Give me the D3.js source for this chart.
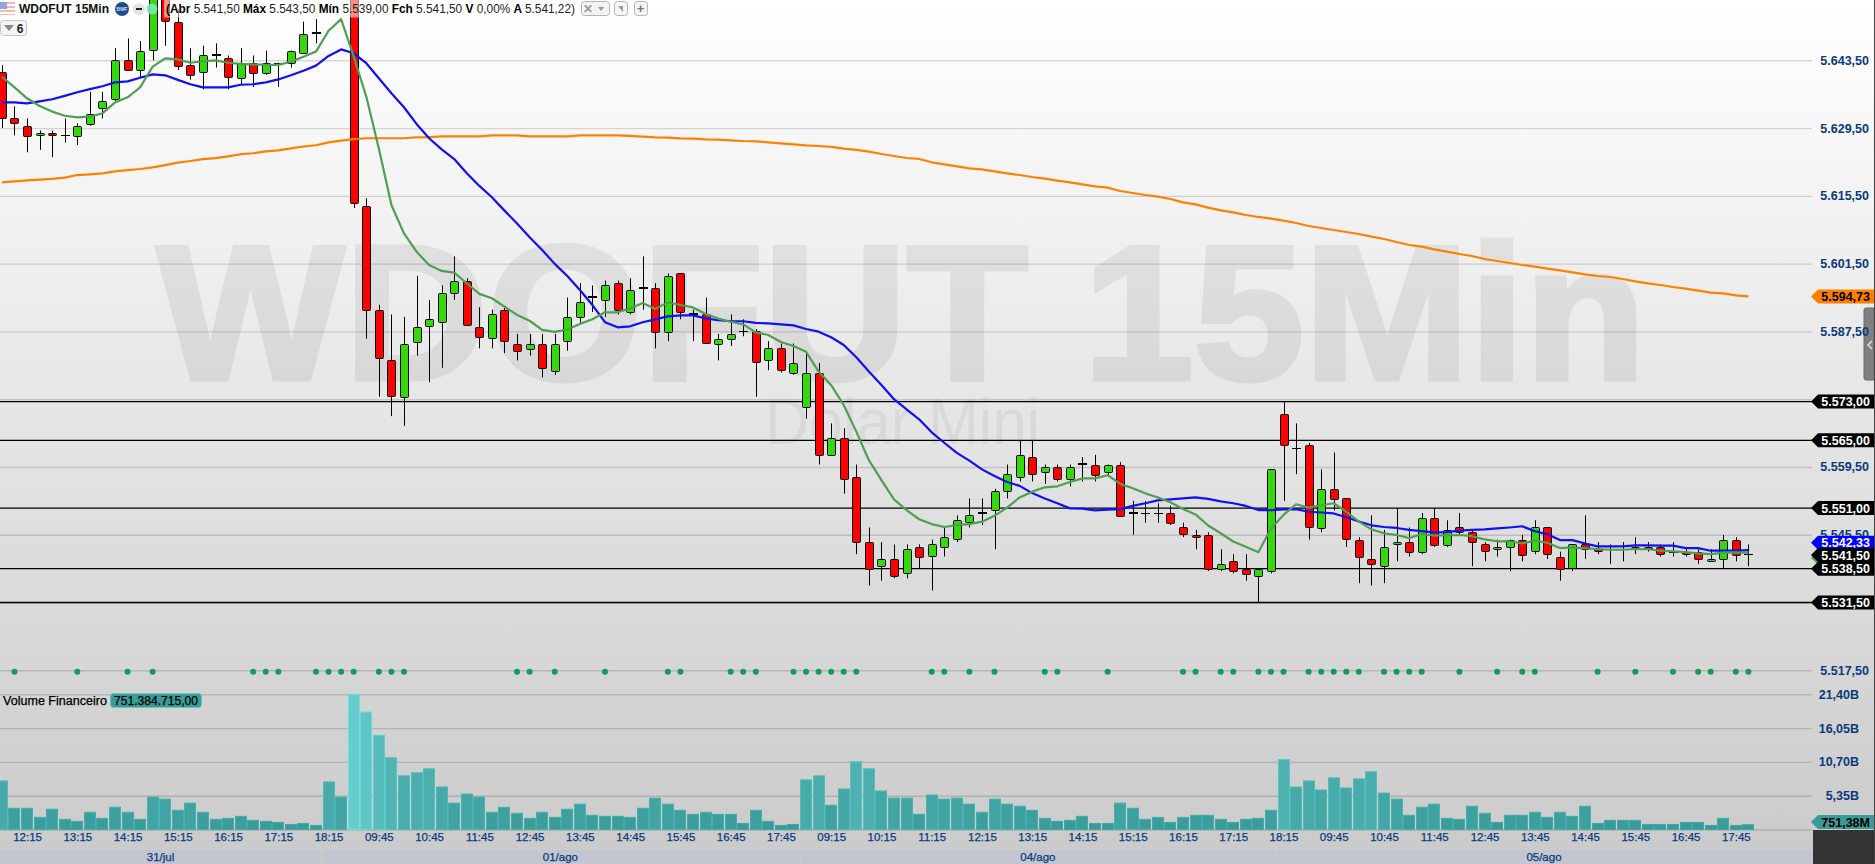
<!DOCTYPE html>
<html>
<head>
<meta charset="utf-8">
<script src="https://cdnjs.cloudflare.com/ajax/libs/d3/7.8.5/d3.min.js"></script>
<style>
html,body{margin:0;padding:0;background:#ccc;overflow:hidden}
svg{display:block}
text{font-family:"Liberation Sans",Arial,sans-serif}
</style>
</head>
<body>
<svg id="chart" width="1875" height="864"></svg>
<script>
const candleOpen=[5641,5631.5,5630,5628,5628.5,5628,5628,5630.5,5633.5,5635.5,
5643.5,5641.5,5645.5,5659,5651.5,5642.5,5641,5644.5,5644,5640,
5643,5641,5643,5643,5645,5649,5660,5666,5662,5613.5,
5592,5581.5,5574,5585.5,5588.5,5589.5,5595.5,5598,5588.5,5586,
5592,5585,5584,5585,5579.5,5585.5,5590.5,5594.5,5594,5597.5,
5591.5,5596.5,5596.5,5587.5,5599.5,5591,5591,5585,5586,5587.5,
5587.5,5581.5,5584,5579,5572,5579,5562,5565.5,5557.5,5544,
5539,5540.5,5537.5,5543,5541,5543,5544.5,5548,5550,5550.5,
5554.5,5557.5,5561.5,5558.5,5559.5,5557,5560,5560,5558.5,5560,
5550,5550,5550,5550,5547,5545.5,5545.5,5538.5,5540,5538.5,
5537,5538,5570.5,5563.5,5564,5547,5555,5553,5544.5,5540.5,
5539,5543.5,5544,5542,5549,5543.5,5547,5546,5543.5,5542.5,
5543,5544.5,5542,5547,5541,5538.5,5543.5,5542.5,5542.5,5542.5,
5542.5,5543,5543,5542,5542,5542,5540,5540.5,5544.5,5541.5];
const candleHigh=[5642.5,5634,5631.5,5629,5629,5631.5,5630.5,5637,5637,5646,
5648,5647.5,5662,5661,5654,5646,5646.5,5647,5644.5,5646,
5644.5,5645.5,5643,5645.5,5651.5,5652,5668,5670,5664,5615,
5593,5591,5590.5,5599,5594,5597,5603,5598.5,5592.5,5592,
5592.5,5587,5587,5587,5587,5594.5,5597.5,5597,5598,5598,
5598.5,5603,5597.5,5599.5,5599.5,5592,5594.5,5587,5591,5590,
5588,5585.5,5585,5585,5583,5581,5568.5,5567.5,5560,5547,
5544,5543.5,5543.5,5543.5,5544.5,5547,5549.5,5553,5553,5555,
5560,5565,5565,5560,5560,5560,5561.5,5562,5560,5560.5,
5552.5,5552.5,5552,5551.5,5548,5546.5,5546,5542.5,5541.5,5541.5,
5538.5,5559,5573,5568.5,5564.5,5559,5562.5,5553,5545,5549.5,
5546.5,5551,5547,5550,5551,5548.5,5550,5546.5,5544,5544.5,
5544.5,5545.5,5548.5,5547,5542,5543.5,5549.5,5544,5543.5,5544,
5545,5544,5543.5,5544,5543,5542.5,5542.5,5545.5,5545,5543.5];
const candleLow=[5629.5,5628,5624.5,5625,5623.5,5626.5,5626,5630,5631.5,5635,
5641.5,5640,5643.5,5646.5,5641.5,5639.5,5637.5,5642,5637.5,5638.5,
5638,5640.5,5638,5642,5645,5647,5658,5660,5613,5586,
5574,5570,5568,5582.5,5577,5580,5594,5589,5584,5584,
5583,5581.5,5582.5,5578,5578.5,5583.5,5589,5591.5,5590.5,5591,
5591,5592,5584,5585.5,5590,5585.5,5585,5581.5,5584.5,5586.5,
5574,5579.5,5579,5578.5,5569.5,5560,5562,5554,5541.5,5535,
5536,5536.5,5536.5,5538.5,5534,5541,5544,5547,5547.5,5542.5,
5553,5556.5,5556.5,5556,5556.5,5555.5,5556.5,5556.5,5557.5,5549.5,
5545.5,5548,5548,5547.5,5545,5542.5,5538,5538,5537.5,5536,
5531.5,5537.5,5552.5,5558,5544.5,5546,5550.5,5543,5535.5,5535,
5535.5,5540,5541,5541.5,5543,5543,5545.5,5539,5540,5541,
5538,5540,5541.5,5540.5,5536,5538,5540.5,5541.5,5539.5,5540,
5541.5,5542,5541,5541,5541,5539.5,5540,5538.5,5540,5539];
const candleClose=[5631.5,5630.5,5628,5628.5,5628,5628,5630,5632.5,5635,5643.5,
5641.5,5645.5,5660,5651.5,5642.5,5640.5,5644.5,5644.75,5640,5643,
5641,5643,5643,5645.5,5649,5649.25,5666,5662,5614,5592,
5582,5574,5585,5588.5,5590,5595.5,5598,5589,5586.5,5591,
5585.5,5583.5,5585,5580,5585,5590.5,5593.5,5594.75,5597,5592,
5596,5596.75,5587.5,5599,5591.5,5591.25,5585,5586,5587,5587.5,
5581,5584,5579.5,5581,5579,5562,5565.5,5557,5544,5538.5,
5540.5,5537,5542.5,5541,5543.5,5545,5548.5,5549.5,5550.25,5554.5,
5558,5562,5558,5559.5,5557,5559.5,5560.25,5558,5560,5549.5,
5550.25,5550,5550,5548,5545.5,5545,5538.5,5539.5,5538,5537.5,
5538.5,5559,5564,5563.5,5547,5555,5553,5544.5,5541,5539.5,
5543,5544,5542,5549,5543.5,5546.5,5546,5544,5542,5543,
5544.5,5541.5,5547,5541.5,5538.5,5543.5,5542.5,5542,5542.5,5542.5,
5543,5542.5,5541.5,5542,5541.5,5540.5,5540.5,5544.5,5541.5,5541.5];
const volumeB=[7.69,3.36,3.36,1.92,3.2,1.6,1.28,2.72,1.76,3.52,
2.72,1.6,5.13,4.81,3.04,4.17,2.72,1.6,1.76,2.08,
1.44,1.28,1.12,.8,.96,.64,7.53,5.13,21.4,18.58,
14.9,11.37,8.49,8.97,9.61,6.73,4.17,5.61,5.13,2.72,
3.52,2.56,1.76,2.72,1.92,3.2,4.01,2.24,2.08,2.08,
1.92,3.36,4.97,4.01,3.04,2.4,2.72,2.4,2.4,.96,
3.04,1.28,.64,.8,7.85,8.49,3.84,6.41,10.73,9.61,
6.09,4.97,4.97,2.4,5.45,4.81,4.97,4.01,2.72,4.81,
4.01,3.68,3.04,1.76,1.28,1.44,2.08,.96,.96,4.17,
3.36,1.6,1.92,1.12,1.92,2.24,2.24,1.6,1.12,1.6,
1.76,3.04,11.05,6.73,7.69,6.25,8.17,6.57,8.01,9.13,
5.77,4.81,2.24,3.52,4.01,1.76,1.6,3.68,2.56,1.12,
2.24,2.24,2.72,1.92,2.72,2.08,3.68,.96,1.44,1.44,
1.44,.8,.8,.8,1.12,1.12,.64,1.76,.64,.75];
const fastAvg=[5640.1,5637.9,5635.65,5634.05,5632.9,5632.05,5631.7,5631.85,5632.55,5634.8,
5635.85,5637.9,5642.2,5643.9,5643.7,5643,5643.3,5643.5,5643,5642.75,
5642.65,5642.55,5642.55,5643.2,5644.25,5645.3,5649.6,5652,5644.25,5636,
5625.3,5613.6,5607.75,5603.97,5601.2,5600,5599.65,5597.45,5595.25,5594.35,
5592.6,5590.9,5589.7,5587.8,5587.4,5587.9,5589.05,5590,5591.45,5591.45,
5592.25,5593.35,5592.15,5593.5,5592.95,5592.45,5591.1,5590.15,5589.5,5588.95,
5587.3,5586.75,5585.3,5584.5,5583.3,5579.2,5576.4,5572.3,5566.8,5560.9,
5556.8,5552.8,5550.6,5548.7,5547.7,5547.1,5547.5,5547.7,5548.2,5549.4,
5551.1,5553.2,5554.4,5555.3,5555.5,5556.4,5557.15,5557.15,5557.8,5556,
5555.1,5554.05,5553.2,5552.2,5550.8,5549.7,5547.4,5545.8,5544.1,5543,
5541.9,5546.8,5549.6,5551.8,5551.1,5551.6,5552,5550.25,5548.2,5546.6,
5545.8,5545.45,5544.8,5545.65,5545.3,5545.4,5545.45,5545.2,5544.55,5544.15,
5544.15,5543.7,5544.3,5543.85,5542.75,5542.9,5542.7,5542.55,5542.4,5542.4,
5542.55,5542.5,5542.2,5542.05,5541.9,5541.65,5541.5,5541.8,5541.85,5541.8];
const midAvg=[5634.8,5634.8,5634.6,5635,5635.45,5636.15,5636.9,5637.55,5638.15,5638.95,
5639.15,5639.9,5640.6,5640.4,5639.45,5638.55,5637.9,5637.9,5637.9,5638.45,
5638.55,5638.95,5639.55,5640.4,5641.35,5642.4,5644.4,5645.75,5644.95,5642.9,
5639.8,5636.7,5633.8,5630.35,5627.4,5625.1,5623.1,5620.15,5617.55,5615.2,
5612.45,5609.8,5606.95,5604.3,5601.45,5598.95,5596.05,5592.95,5589.4,5588.35,
5588.55,5589.4,5590,5590.6,5590.8,5590.8,5590.2,5589.8,5589.6,5589.6,
5589.25,5589.15,5588.95,5588.75,5588,5587.45,5586.3,5584.7,5582.15,5579.2,
5576.45,5573.5,5571.4,5569.35,5566.65,5564.5,5562.4,5560.8,5559,5557.65,
5556.4,5555.6,5554.1,5553,5552,5550.95,5550.9,5550.55,5550.7,5550.8,
5551.45,5552,5552.6,5552.8,5553,5553.2,5552.9,5552.4,5552,5551.45,
5550.6,5550.6,5550.75,5550.8,5550.25,5550.1,5549.9,5549.1,5548.25,5547.45,
5547.1,5546.9,5546.5,5546.25,5546,5546.05,5546.35,5546.5,5546.6,5546.8,
5547,5547.25,5546.25,5545.6,5544.4,5544.4,5543.7,5543.1,5543.1,5543.1,
5543.3,5543.3,5543.25,5543.25,5542.75,5542.75,5542.2,5542.2,5542.2,5542.33];
const slowAvg=[5618.3,5618.5,5618.7,5618.85,5619,5619.25,5619.8,5619.95,5620.15,5620.55,
5620.8,5621.05,5621.4,5621.85,5622.35,5622.7,5623.1,5623.3,5623.65,5624.1,
5624.3,5624.7,5624.9,5625.3,5625.7,5625.95,5626.55,5626.9,5627.2,5627.4,
5627.4,5627.4,5627.4,5627.6,5627.65,5627.8,5627.8,5627.8,5627.8,5628,
5628,5628,5627.8,5627.8,5627.8,5627.8,5628,5628,5628,5628,
5627.87,5627.73,5627.59,5627.52,5627.39,5627.32,5627.18,5627.11,5626.97,5626.83,
5626.77,5626.56,5626.35,5626.15,5625.94,5625.8,5625.6,5625.25,5624.98,5624.63,
5624.15,5623.74,5623.32,5623.12,5622.43,5622.01,5621.6,5621.19,5620.98,5620.57,
5620.16,5619.81,5619.4,5619.05,5618.64,5618.3,5617.88,5617.47,5617.19,5616.51,
5616.09,5615.68,5615.34,5614.85,5614.16,5613.75,5613.06,5612.51,5612.1,5611.55,
5611.14,5610.79,5610.38,5609.9,5609.28,5608.86,5608.45,5608.04,5607.62,5607.07,
5606.59,5605.97,5605.35,5605.01,5604.46,5603.97,5603.49,5603.08,5602.46,5602.05,
5601.63,5601.22,5600.87,5600.46,5600.12,5599.7,5599.29,5598.95,5598.74,5598.33,
5597.84,5597.43,5597.09,5596.67,5596.33,5595.92,5595.5,5595.37,5594.95,5594.73];
const signalBars=[1,6,10,12,20,21,22,25,26,27,28,30,31,32,41,42,44,48,53,54,58,59,60,63,64,65,66,67,68,74,75,77,79,83,84,88,94,95,97,98,100,101,102,104,105,106,107,108,110,111,112,113,116,119,121,122,127,130,133,135,136,138,139];
const priceTicks=[5643.5,5629.5,5615.5,5601.5,5587.5,5573.5,5559.5,5545.5,5531.5,5517.5];
const volumeTicks=[5.35,10.7,16.05,21.4];
const supportLevels=[5573,5565,5551,5538.5,5531.5];
const timeLabels=["12:15","13:15","14:15","15:15","16:15","17:15","18:15","09:45","10:45","11:45","12:45","13:45","14:45","15:45","16:45","17:45","09:15","10:15","11:15","12:15","13:15","14:15","15:15","16:15","17:15","18:15","09:45","10:45","11:45","12:45","13:45","14:45","15:45","16:45","17:45"];
const dayLabels=["31/jul","01/ago","04/ago","05/ago"];
const dayBreaks=[-0.15,25.4,63.5,101.4,144.1];

const W=1875,H=864,chartR=1812;
const locale=d3.formatLocale({decimal:",",thousands:".",grouping:[3],currency:["",""]});
const fmtPrice=locale.format(",.2f");
const x=d3.scaleLinear().domain([0,139]).range([1.9,1748.4]);
const y=d3.scaleLinear().domain([5643.5,5517.5]).range([60.3,670.3]);
const yVol=d3.scaleLinear().domain([0,21.4]).range([829.5,694.3]);
const volColor=d3.scaleLinear().domain([0,21.4]).range(["#379896","#66cccc"]);
const svg=d3.select("#chart");
const BLUE="#093a7c";
const px=v=>Math.round(v)+.5;

const defs=svg.append("defs");
const bg=defs.append("linearGradient").attr("id","bg").attr("x1",0).attr("y1",0).attr("x2",0).attr("y2",1);
bg.append("stop").attr("offset",0).attr("stop-color","#ffffff");
bg.append("stop").attr("offset",1).attr("stop-color","#cacaca");
svg.append("rect").attr("width",W).attr("height",H).attr("fill","url(#bg)");

// watermark
const wm=svg.append("g").attr("opacity",.062);
wm.append("text").attr("x",157).attr("y",379).attr("font-size",191).attr("font-weight","bold")
  .attr("fill","#000").attr("stroke","#000").attr("stroke-width",5).attr("textLength",1489).attr("lengthAdjust","spacingAndGlyphs").text("WDOFUT 15Min");
svg.append("text").attr("x",765).attr("y",444).attr("font-size",64)
  .attr("fill","#000").attr("fill-opacity",.05).attr("textLength",275).attr("lengthAdjust","spacingAndGlyphs").text("Dolar Mini");

// gridlines
const gridStyle=g=>{g.select(".domain").remove();g.selectAll("text").remove();
  g.selectAll("line").attr("stroke","#000").attr("stroke-opacity",.14).attr("stroke-width",1.4);};
svg.append("g").call(d3.axisRight(y).tickValues(priceTicks).tickSize(chartR)).call(gridStyle);
svg.append("g").call(d3.axisRight(yVol).tickValues([0].concat(volumeTicks)).tickSize(chartR)).call(gridStyle);

// support lines
svg.append("g").selectAll("line").data(supportLevels).join("line")
  .attr("x1",0).attr("x2",chartR).attr("y1",d=>y(d)).attr("y2",d=>y(d))
  .attr("stroke","#000").attr("stroke-width",1.3);

// volume bars
svg.append("g").selectAll("rect").data(volumeB).join("rect")
  .attr("x",(d,i)=>Math.round(x(i)-6)+.5).attr("width",11)
  .attr("y",d=>yVol(d)).attr("height",d=>yVol(0)-yVol(d))
  .attr("fill",d=>volColor(d)).attr("stroke",d=>d3.color(volColor(d)).brighter(.25)).attr("stroke-width",1);

// signal dots
svg.append("g").selectAll("circle").data(signalBars).join("circle")
  .attr("cx",d=>x(d)).attr("cy",y(5517.2)).attr("r",3).attr("fill","#0f9d58");

// candles
const candles=candleOpen.map((o,i)=>({i,o,h:candleHigh[i],l:candleLow[i],c:candleClose[i]}));
const cg=svg.append("g");
cg.selectAll("line").data(candles).join("line")
  .attr("x1",d=>px(x(d.i))).attr("x2",d=>px(x(d.i)))
  .attr("y1",d=>y(d.h)).attr("y2",d=>y(d.l)).attr("stroke","#000").attr("stroke-width",1);
const bodies=candles.filter(d=>Math.abs(d.o-d.c)>=.5);
cg.selectAll("rect").data(bodies).join("rect")
  .attr("x",d=>px(x(d.i))-4).attr("width",8)
  .attr("y",d=>Math.round(y(Math.max(d.o,d.c)))+.5)
  .attr("height",d=>Math.max(1,Math.round(y(Math.min(d.o,d.c))-y(Math.max(d.o,d.c)))))
  .attr("rx",1)
  .attr("fill",d=>d.c>d.o?"#33d90b":"#ff0000").attr("stroke","#000").attr("stroke-width",1);
const dojis=candles.filter(d=>Math.abs(d.o-d.c)<.5);
cg.selectAll("rect.doji").data(dojis).join("rect").attr("class","doji")
  .attr("x",d=>px(x(d.i))-4.5).attr("width",9)
  .attr("y",d=>Math.round(y(Math.max(d.o,d.c))))
  .attr("height",d=>d.o===d.c?1:2).attr("fill","#000");

// averages
const lineGen=d3.line().x((d,i)=>x(i)).y(d=>y(d));
[[slowAvg,"#ff8000",1],[midAvg,"#1010f4",1],[fastAvg,"#4f9f50",1]].forEach(([s,c,o])=>{
  svg.append("path").attr("d",lineGen(s)).attr("fill","none").attr("stroke",c).attr("stroke-opacity",o)
    .attr("stroke-width",2.2).attr("stroke-linejoin","round");
});

// time axis & day band
const timeIdx=timeLabels.map((d,k)=>2+4*k);
const tg=svg.append("g").attr("transform","translate(0,831)")
  .call(d3.axisBottom(x).tickValues(timeIdx).tickSize(0).tickPadding(2).tickFormat((d,k)=>timeLabels[k]));
tg.select(".domain").remove();
tg.selectAll("text").attr("font-size",11.5).attr("fill",BLUE).attr("font-family",'"Liberation Sans"').attr("stroke",BLUE).attr("stroke-width",.25);

dayLabels.forEach((lab,k)=>{
  const a=Math.max(0,x(dayBreaks[k])),b=Math.min(chartR,x(dayBreaks[k+1]));
  svg.append("rect").attr("x",a+(k?1.5:0)).attr("y",850).attr("width",b-a-1.5).attr("height",14).attr("fill","#c2c6d0");
  svg.append("text").attr("x",(x(dayBreaks[k])+b)/2).attr("y",861).attr("text-anchor","middle")
    .attr("font-size",11.5).attr("fill",BLUE).attr("stroke",BLUE).attr("stroke-width",.25).text(lab);
});

// handle sits under the axis labels
svg.append("path").attr("d","M1874 308H1866a2 2 0 0 0 -2 2V378a2 2 0 0 0 2 2H1874Z").attr("fill","#808080").attr("stroke","#6a6a6a");
svg.append("path").attr("d","M1872 341l-4 4l4 4").attr("fill","none").attr("stroke","#ddd").attr("stroke-width",1.6);

// right axes
const axisFix=g=>{g.select(".domain").remove();
  g.selectAll("text").attr("font-size",12.5).attr("font-weight","bold").attr("fill",BLUE).attr("font-family",'"Liberation Sans"');};
svg.append("g").attr("transform","translate(1869,0)")
  .call(d3.axisLeft(y).tickValues(priceTicks).tickSize(0).tickPadding(0).tickFormat(fmtPrice)).call(axisFix);
svg.append("g").attr("transform","translate(1859,0)")
  .call(d3.axisLeft(yVol).tickValues(volumeTicks).tickSize(0).tickPadding(0).tickFormat(d=>fmtPrice(d)+"B")).call(axisFix);

// corner
svg.append("rect").attr("x",1813).attr("y",830).attr("width",62).attr("height",34).attr("fill","#333");

// tags
function tag(cy,fill,txtFill,label){
  const g=svg.append("g");
  g.append("polygon").attr("points",[[1811,cy],[1818,cy-7],[1874,cy-7],[1874,cy+7],[1818,cy+7]].join(" ")).attr("fill",fill);
  if(label) g.append("text").attr("x",1870).attr("y",cy+4.5).attr("text-anchor","end").attr("font-size",12.5).attr("font-weight","bold").attr("fill",txtFill).text(label);
}
tag(y(slowAvg[139]),"#ff8000","#000",fmtPrice(slowAvg[139]));
tag(y(fastAvg[139])+5,"#4f9f50","#000",null);
tag(y(midAvg[139])-7.3,"#0000ff","#fff",fmtPrice(midAvg[139]));
[5573,5565,5551].forEach(v=>tag(y(v),"#000","#fff",fmtPrice(v)));
tag(y(5541.5)+1,"#000","#fff",fmtPrice(candleClose[139]));
[5538.5,5531.5].forEach(v=>tag(y(v),"#000","#fff",fmtPrice(v)));
tag(822,"#3a9c9a","#000","751,38M");

svg.append("rect").attr("x",1874).attr("y",0).attr("width",1).attr("height",H).attr("fill","#444");

// volume title
svg.append("text").attr("x",3).attr("y",705).attr("font-size",12).attr("fill","#000").attr("stroke","#000").attr("stroke-width",.25).attr("textLength",104).attr("lengthAdjust","spacingAndGlyphs").text("Volume Financeiro");
svg.append("rect").attr("x",110.5).attr("y",693.5).attr("width",91).attr("height",14).attr("rx",3).attr("fill","#3a9c9a").attr("stroke","#6cc3c0");
svg.append("text").attr("x",114).attr("y",705).attr("font-size",12).attr("fill","#000").attr("stroke","#000").attr("stroke-width",.25).attr("textLength",84).attr("lengthAdjust","spacingAndGlyphs").text("751.384.715,00");

// header
svg.append("rect").attr("x",164).attr("y",0).attr("width",416).attr("height",17.5).attr("fill","#fff").attr("fill-opacity",.55);
const flag=svg.append("g");
flag.append("rect").attr("x",0).attr("y",2).attr("width",15).attr("height",13).attr("fill","#f3b7b7");
d3.range(3).forEach(k=>flag.append("rect").attr("x",0).attr("y",4+k*4).attr("width",15).attr("height",2).attr("fill","#fff"));
flag.append("rect").attr("x",0).attr("y",2).attr("width",7).attr("height",7).attr("fill","#8fa6e0");
svg.append("text").attr("x",19).attr("y",13).attr("font-size",12).attr("font-weight","bold").attr("fill","#111").attr("textLength",90).attr("lengthAdjust","spacingAndGlyphs").text("WDOFUT 15Min");
svg.append("circle").attr("cx",122).attr("cy",9).attr("r",7).attr("fill","#1d4e89");
svg.append("text").attr("x",122).attr("y",11).attr("text-anchor","middle").attr("font-size",5).attr("font-weight","bold").attr("fill","#cde").text("BMF");
svg.append("circle").attr("cx",139).attr("cy",9).attr("r",6).attr("fill","#e3e3e3");
svg.append("rect").attr("x",136).attr("y",8).attr("width",6).attr("height",2).attr("fill","#222");
svg.append("circle").attr("cx",152).attr("cy",9).attr("r",5.5).attr("fill","#7be8b0").attr("fill-opacity",.9);
const hdr=svg.append("text").attr("x",166).attr("y",13).attr("font-size",12).attr("fill","#222").attr("textLength",409).attr("lengthAdjust","spacingAndGlyphs");
[["(Abr ",1],["5.541,50 ",0],["Máx ",1],["5.543,50 ",0],["Mín ",1],["5.539,00 ",0],["Fch ",1],["5.541,50 ",0],["V ",1],["0,00% ",0],["A ",1],["5.541,22)",0]]
  .forEach(([t,b])=>hdr.append("tspan").attr("font-weight",b?"bold":"normal").attr("fill",b?"#000":"#222").text(t));
[[581,28],[614,13],[634,13]].forEach(([bx,bw])=>svg.append("rect").attr("x",bx+.5).attr("y",1.5).attr("width",bw).attr("height",14).attr("rx",3).attr("fill","#f4f4f4").attr("stroke","#b5b5b5"));
svg.append("text").attr("x",588).attr("y",13).attr("text-anchor","middle").attr("font-size",12).attr("font-weight","bold").attr("fill","#999").text("✕");
svg.append("path").attr("d","M598 7h6l-3 4z").attr("fill","#999");
svg.append("path").attr("d","M618 6h5v6z").attr("fill","#999");
svg.append("text").attr("x",640.5).attr("y",13).attr("text-anchor","middle").attr("font-size",13).attr("font-weight","bold").attr("fill","#777").text("+");
svg.append("rect").attr("x",.5).attr("y",20.5).attr("width",26).attr("height",15).attr("rx",3).attr("fill","#f4f4f4").attr("stroke","#c4c4c4");
svg.append("path").attr("d","M4 25h10l-5 6z").attr("fill","#888");
svg.append("text").attr("x",20).attr("y",33).attr("text-anchor","middle").attr("font-size",12).attr("font-weight","bold").attr("fill","#222").text("6");
</script>
</body>
</html>
